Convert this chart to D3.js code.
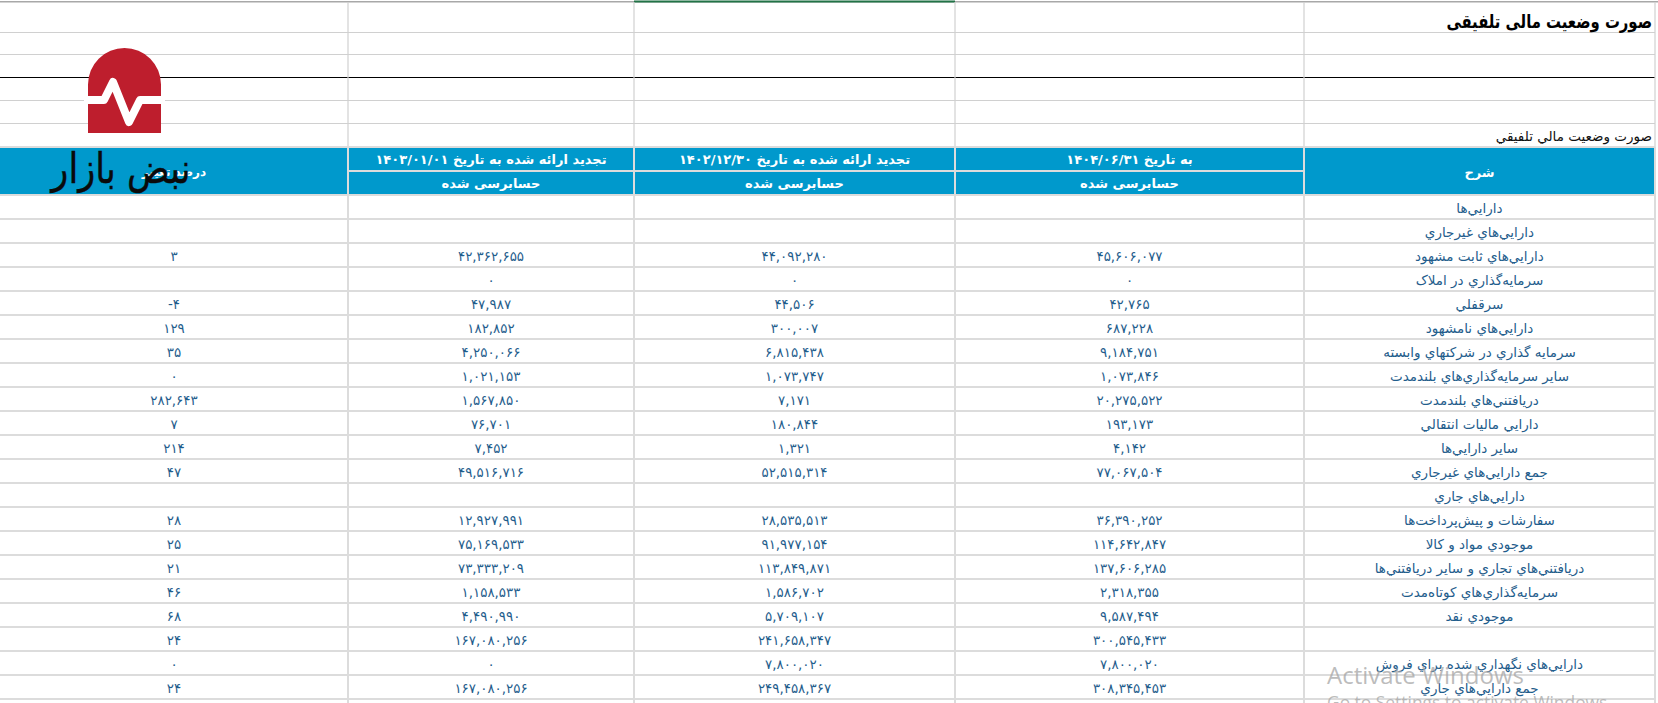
<!DOCTYPE html>
<html><head><meta charset="utf-8">
<script src="https://cdn.jsdelivr.net/npm/d3@7"></script>
<style>html,body{margin:0;padding:0;background:#fff;overflow:hidden}svg{display:block}</style>
</head><body><svg id="c" width="1658" height="703"></svg>
<script>
const rowLabels = ["دارايي‌ها","دارايي‌هاي غيرجاري","دارايي‌هاي ثابت مشهود","سرمايه‌گذاري در املاک","سرقفلي","دارايي‌هاي نامشهود","سرمايه گذاري در شرکتهاي وابسته","ساير سرمايه‌گذاري‌هاي بلندمدت","دريافتني‌هاي بلندمدت","دارايي ماليات انتقالي","ساير دارايي‌ها","جمع دارايي‌هاي غيرجاري","دارايي‌هاي جاري","سفارشات و پيش‌پرداخت‌ها","موجودي مواد و کالا","دريافتني‌هاي تجاري و ساير دريافتني‌ها","سرمايه‌گذاري‌هاي کوتاه‌مدت","موجودي نقد","","دارايي‌هاي نگهداري شده براي فروش","جمع دارايي‌هاي جاري"];
const period1404 = [null,null,45606077,0,42765,687228,9184751,1073846,20275522,193173,4142,77067504,null,36390252,114642847,137606285,2318355,9587494,300545433,7800020,308345453];
const period1403End = [null,null,44092280,0,44506,300007,6815438,1073747,7171,180844,1321,52515314,null,28535513,91977154,113849871,1586702,5709107,241658347,7800020,249458367];
const period1403Start = [null,null,42362655,0,47987,182852,4250066,1021153,1567850,76701,7452,49516716,null,12927991,75169533,73333209,1158533,4490990,167080256,0,167080256];
const changePct = [null,null,3,null,-4,129,35,0,282643,7,214,47,null,28,25,21,46,68,24,0,24];
const headTop = ["به تاريخ ۱۴۰۴/۰۶/۳۱","تجديد ارائه شده به تاريخ ۱۴۰۲/۱۲/۳۰","تجديد ارائه شده به تاريخ ۱۴۰۳/۰۱/۰۱"];
const headSub = "حسابرسی شده";
const titleText = "صورت وضعيت مالی تلفيقی";
const subTitleText = "صورت وضعيت مالي تلفيقي";

const svg = d3.select("#c");
const fa = "'DejaVu Sans'";
const ink = "#1f5d8c", blue = "#0099cc", grid = "#dcdcdc", pale = "#d0d0d0";
const fmt = d3.format(",");
const toFa = s => String(s).replace(/[0-9]/g, d => "۰۱۲۳۴۵۶۷۸۹"[+d]);

// columns, right to left: label, three periods, change
const colKeys = ["label","p1","p2","p3","pct"];
const colEdge = d3.scaleOrdinal().domain(colKeys).range([1304,955,634,348,0]);
const colEnd  = d3.scaleOrdinal().domain(colKeys).range([1655,1304,955,634,348]);
const colMid = k => (colEdge(k) + colEnd(k)) / 2;
const y = d3.scaleBand().domain(d3.range(rowLabels.length)).range([195,699]);
const topRows = [2,32,54,77,100,123];

// upper sheet grid
svg.selectAll("line.t").data(topRows.slice(1)).join("line").attr("class","t")
  .attr("x1",0).attr("x2",1655).attr("y1",d=>d+.5).attr("y2",d=>d+.5)
  .attr("stroke",d=>d===77?"#000":pale).attr("stroke-width",d=>d===77?1.2:1);
svg.append("rect").attr("x",0).attr("y",1).attr("width",1658).attr("height",1.5).attr("fill","#a8a8a8");
svg.append("rect").attr("x",634).attr("y",0.5).attr("width",321).attr("height",2).attr("fill","#217346");
svg.selectAll("line.v").data(colKeys.slice(0,4).map(colEdge).concat(1655)).join("line").attr("class","v")
  .attr("x1",d=>d).attr("x2",d=>d).attr("y1",2).attr("y2",703).attr("stroke",pale).attr("stroke-width",1.2);

// header band
svg.append("rect").attr("x",0).attr("y",147).attr("width",1656).attr("height",47).attr("fill",blue);
svg.selectAll("line.hv").data(colKeys.slice(0,4).map(colEdge).concat(1655)).join("line").attr("class","hv")
  .attr("x1",d=>d).attr("x2",d=>d).attr("y1",147).attr("y2",703).attr("stroke",grid).attr("stroke-width",2);
svg.append("line").attr("x1",348).attr("x2",1304).attr("y1",171).attr("y2",171).attr("stroke",grid).attr("stroke-width",2);
svg.append("line").attr("x1",0).attr("x2",1655).attr("y1",147).attr("y2",147).attr("stroke",grid).attr("stroke-width",2);

// table rows
svg.selectAll("line.r").data(d3.range(rowLabels.length+1)).join("line").attr("class","r")
  .attr("x1",0).attr("x2",1655)
  .attr("y1",i=> (i<rowLabels.length? y(i): 699)).attr("y2",i=> (i<rowLabels.length? y(i): 699))
  .attr("stroke",grid).attr("stroke-width",2);

const txt = (sel) => sel.attr("font-family",fa).attr("text-anchor","middle").attr("dominant-baseline","central");
["p1","p2","p3"].forEach((k,i)=>{
  svg.append("text").text(headTop[i]).attr("x",colMid(k)).attr("y",159).call(txt).attr("direction","rtl")
    .attr("font-size",13).attr("font-weight",700).attr("fill","#fff");
  svg.append("text").text(headSub).attr("x",colMid(k)).attr("y",183).call(txt).attr("direction","rtl")
    .attr("font-size",13).attr("font-weight",700).attr("fill","#fff");
});
svg.append("text").text("شرح").attr("x",colMid("label")).attr("y",172).call(txt).attr("direction","rtl")
  .attr("font-size",13).attr("font-weight",700).attr("fill","#fff");
svg.append("text").text("درصد تغيير").attr("x",colMid("pct")).attr("y",172).call(txt).attr("direction","rtl")
  .attr("font-size",12).attr("font-weight",700).attr("fill","#fff");

svg.selectAll("text.lab").data(rowLabels).join("text").attr("class","lab").text(d=>d)
  .attr("x",colMid("label")).attr("y",(d,i)=>y(i)+y.bandwidth()/2+1).call(txt).attr("direction","rtl")
  .attr("font-size",13.5).attr("fill",ink);
[["p1",period1404],["p2",period1403End],["p3",period1403Start],["pct",changePct]].forEach(([k,vals])=>{
  svg.selectAll("text."+k).data(vals).join("text").attr("class",k)
    .text(d=>d===null?"":toFa(fmt(d).replace("−","-")))
    .attr("x",colMid(k)).attr("y",(d,i)=>y(i)+y.bandwidth()/2+1).call(txt).attr("direction","ltr")
    .attr("font-size",13.4).attr("fill",ink);
});

// titles
svg.append("g").attr("transform","translate(1652,21) scale(.9,1.15)")
  .append("text").text(titleText).attr("text-anchor","start").attr("dominant-baseline","central")
  .attr("direction","rtl").attr("font-family",fa).attr("font-size",16.5).attr("font-weight",700).attr("fill","#000");
svg.append("text").text(subTitleText).attr("x",1652).attr("y",136).attr("text-anchor","start").attr("dominant-baseline","central")
  .attr("direction","rtl").attr("font-family",fa).attr("font-size",13.5).attr("fill","#111");

// logo overlay
const logo = svg.append("g");
logo.append("path").attr("d","M88 133V84.5A36.5 36.5 0 0 1 161 84.5V133Z").attr("fill","#be1e2d");
logo.append("path").attr("d","M84 100H104L113 82L129 122L140 100H165").attr("fill","none")
  .attr("stroke","#fff").attr("stroke-width",8).attr("stroke-linejoin","round");
svg.append("g").attr("transform","translate(121,168) scale(.84,1)")
  .append("text").text("نبض بازار").attr("x",0).attr("y",0).call(txt).attr("direction","rtl")
  .attr("font-size",42).attr("fill","#0a0a0a").attr("stroke","#0a0a0a").attr("stroke-width",.4);

// OS watermark
svg.append("text").text("Activate Windows").attr("x",1327).attr("y",684).attr("font-family","'Open Sans'").attr("font-size",24).attr("fill","#a6a6a6").attr("fill-opacity",.75);
svg.append("text").text("Go to Settings to activate Windows.").attr("x",1327).attr("y",709).attr("font-family","'Open Sans'").attr("font-size",17.4).attr("fill","#a6a6a6").attr("fill-opacity",.75);
</script></body></html>
